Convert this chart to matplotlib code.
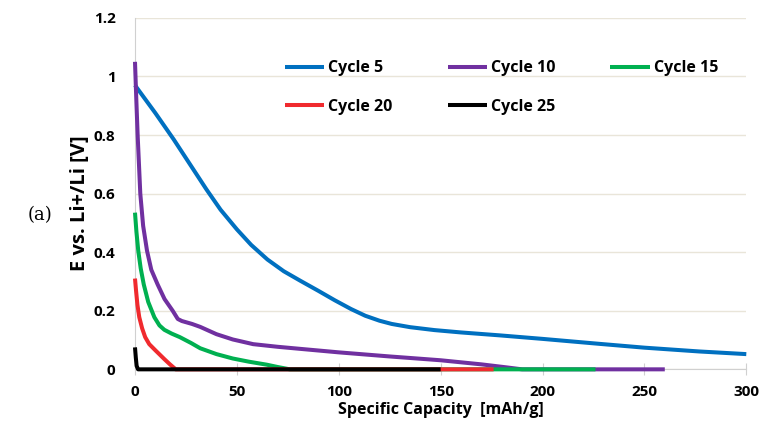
import matplotlib.pyplot as plt

# capacity [mAh/g] and potential [V]
x5 = [0, 10, 19, 27, 35, 42, 50, 57, 65, 73, 81, 90, 98, 106, 113, 120, 126, 135, 147, 160, 179, 200, 228, 250, 277, 300]
y5 = [0.97, 0.875, 0.785, 0.70, 0.615, 0.545, 0.478, 0.425, 0.375, 0.335, 0.303, 0.268, 0.236, 0.206, 0.183, 0.166, 0.155, 0.144, 0.134, 0.126, 0.116, 0.104, 0.087, 0.074, 0.061, 0.052]

x10 = [0, 0.6, 1.3, 2.6, 4, 5.9, 8, 11.1, 14.5, 18.5, 21, 23, 28, 32, 40, 48, 58, 70, 81, 100, 125, 150, 170, 182, 190, 260]
y10 = [1.05, 0.93, 0.80, 0.60, 0.49, 0.405, 0.34, 0.29, 0.24, 0.2, 0.172, 0.165, 0.155, 0.145, 0.12, 0.102, 0.086, 0.077, 0.07, 0.058, 0.044, 0.031, 0.017, 0.007, 0.0, 0.0]

x15 = [0, 0.7, 1.6, 2.8, 4.3, 6.5, 9.5, 12, 14.4, 18, 22, 27.5, 32, 40, 48, 56, 64.6, 70, 76, 226]
y15 = [0.535, 0.47, 0.405, 0.345, 0.29, 0.23, 0.178, 0.15, 0.135, 0.122, 0.11, 0.09, 0.072, 0.052, 0.037, 0.026, 0.016, 0.008, 0.0, 0.0]

x20 = [0, 0.5, 1.2, 2.1, 3.5, 5, 7, 10, 14.4, 17, 20, 176]
y20 = [0.31, 0.27, 0.22, 0.178, 0.14, 0.11, 0.086, 0.065, 0.035, 0.018, 0.0, 0.0]

x25 = [0, 0.4, 0.8, 1.5, 150]
y25 = [0.075, 0.04, 0.012, 0.0, 0.0]

labels = ['Cycle 5', 'Cycle 10', 'Cycle 15', 'Cycle 20', 'Cycle 25']
colors = ['#0070C0', '#7030A0', '#00B050', '#F02A2E', '#000000']

xticks = [0, 50, 100, 150, 200, 250, 300]
yticks = [0, 0.2, 0.4, 0.6, 0.8, 1.0, 1.2]
ytick_labels = ['0', '0.2', '0.4', '0.6', '0.8', '1', '1.2']

plt.rcParams['font.family'] = ['Open Sans', 'DejaVu Sans']

fig = plt.figure(figsize=(7.67, 4.26), dpi=100)
ax = fig.add_axes([0.176, 0.133, 0.797, 0.825])

series = [(x5, y5), (x10, y10), (x15, y15), (x20, y20), (x25, y25)]
lines = []
for (xs, ys), lab, col in zip(series, labels, colors):
    ln, = ax.plot(xs, ys, color=col, lw=2.9, label=lab, clip_on=False,
                  solid_capstyle='butt', solid_joinstyle='round', zorder=3)
    lines.append(ln)

ax.set_xlim(0, 300)
ax.set_ylim(0, 1.2)
ax.set_xticks(xticks)
ax.set_yticks(yticks)
ax.set_yticklabels(ytick_labels)
for t in ax.get_xticklabels() + ax.get_yticklabels():
    t.set_fontweight('bold')
    t.set_fontsize(11)

ax.grid(axis='y', color='#e9e5d9', lw=1)
ax.set_axisbelow(True)
for s in ['top', 'right']:
    ax.spines[s].set_visible(False)
for s in ['left', 'bottom']:
    ax.spines[s].set_color('#d0d0d0')
ax.tick_params(axis='x', direction='inout', length=9, color='#d0d0d0', pad=7)
ax.tick_params(axis='y', length=0, pad=14)

ax.set_xlabel('Specific Capacity  [mAh/g]', fontsize=11.5, fontweight='bold', labelpad=2)
ax.set_ylabel('E vs. Li+/Li [V]', fontsize=14.5, fontweight='bold')
ax.yaxis.set_label_coords(-0.073, 0.473)

fig.text(0.052, 0.495, '(a)', fontsize=13, family='DejaVu Serif', ha='center', va='center')

# legend reads row by row in the reference
order = [0, 3, 1, 4, 2]
ax.legend([lines[i] for i in order], [labels[i] for i in order],
          ncol=3, frameon=False, loc='upper left', bbox_to_anchor=(0.222, 0.92),
          prop={'weight': 'bold', 'size': 11.5}, handlelength=2.45, handletextpad=0.25,
          columnspacing=3.45, labelspacing=1.4)

fig.savefig('out.png')
